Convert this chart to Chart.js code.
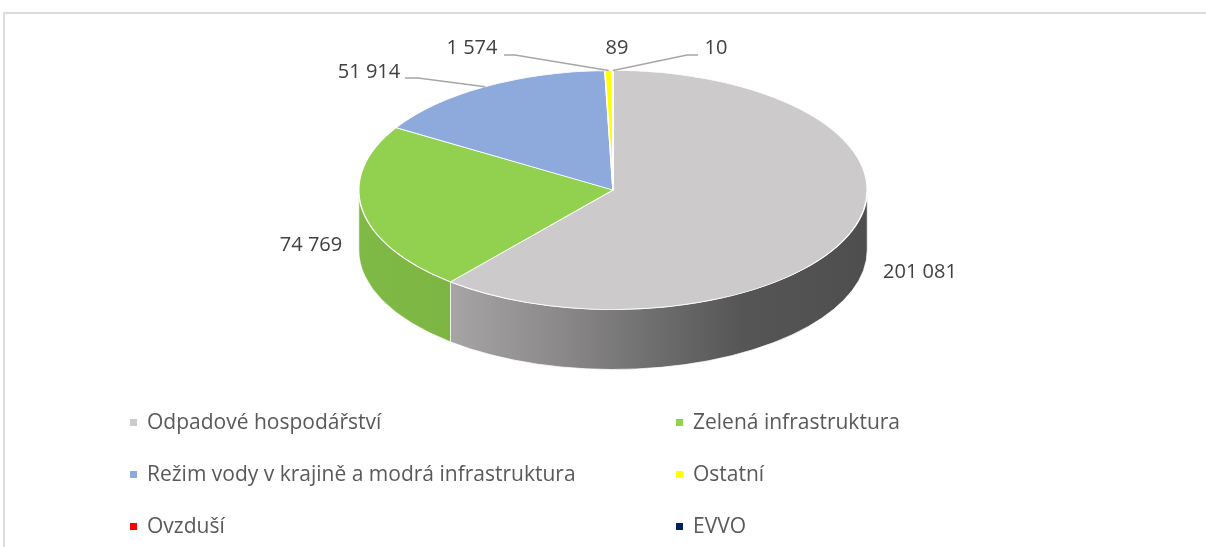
<!DOCTYPE html>
<html>
<head>
<meta charset="utf-8">
<script src="https://cdn.jsdelivr.net/npm/chart.js@4.4.0/dist/chart.umd.min.js"></script>
<style>
    html, body { margin: 0; padding: 0; background: #fff; }
    #wrap { position: relative; width: 1206px; height: 547px; overflow: hidden; }
    #frame { position: absolute; left: 3px; top: 12px; width: 1240px; height: 580px; border-top: 2px solid #dcdcdc; border-left: 2px solid #dcdcdc; }
    #chartPie { position: absolute; left: 0; top: 0; }
    .lg { position: absolute; font: 21px "Open Sans", sans-serif; color: #595959; white-space: nowrap; line-height: 24px; height: 24px; }
    .lg i { position: absolute; left: 0; top: 9px; width: 7px; height: 7px; }
    .lg b { font-weight: normal; position: absolute; left: 17px; top: -1px; }
</style>
</head>
<body>
<div id="wrap">
    <div id="frame"></div>
    <canvas id="chartPie" width="1206" height="547"></canvas>
    <div id="legendPie"></div>
</div>
<script>
    // dữ liệu biểu đồ
    var categories = ['Odpadové hospodářství', 'Zelená infrastruktura', 'Režim vody v krajině a modrá infrastruktura', 'Ostatní', 'Ovzduší', 'EVVO'];
    var values = [201081, 74769, 51914, 1574, 89, 10];
    var colors = ['#CCCACB', '#92D050', '#8EA9DB', '#FFFF00', '#FF0000', '#002060'];

    (function () {
        "use strict";

        // màu mặt bên (gradient trái -> phải)
        var sideShades = [
            [[0, '#bdbbbc'], [0.4, '#8a8889'], [0.75, '#565656'], [1, '#4e4e4e']],
            [[0, '#80ba46'], [1, '#6a9e33']],
            [[0, '#7891bd'], [1, '#5f77a0']],
            [[0, '#d8d800'], [1, '#b0b000']],
            [[0, '#cc0000'], [1, '#aa0000']],
            [[0, '#001a4d'], [1, '#001030']]
        ];

        // vị trí nhãn giá trị
        var labelSpots = [
            { x: 920, y: 272 },
            { x: 311, y: 245 },
            { x: 369, y: 72, line: [[405, 78], [418, 78]] },
            { x: 472, y: 48, line: [[504, 55], [515, 55]] },
            { x: 617, y: 48 },
            { x: 716, y: 48, line: [[698, 55], [687, 55]] }
        ];

        var fmt = function (v) {
            return String(v).replace(/\B(?=(\d{3})+(?!\d))/g, ' ');
        };

        // plugin vẽ bánh 3D
        var pie3d = {
            id: 'pie3d',
            beforeDatasetsDraw: function (chart, args, opts) {
                var ctx = chart.ctx;
                var meta = chart.getDatasetMeta(0);
                var first = meta.data[0];
                var cx = first.x, cy = first.y, r = first.outerRadius;
                var ry = r * opts.tilt;
                var Y = opts.centerY;
                for (var i = 0; i < meta.data.length; i++) {
                    var arc = meta.data[i];
                    var s = Math.max(arc.startAngle, 0), e = Math.min(arc.endAngle, Math.PI);
                    if (e <= s) continue;
                    ctx.beginPath();
                    ctx.ellipse(cx, Y, r, ry, 0, s, e);
                    ctx.ellipse(cx, Y + opts.depth, r, ry, 0, e, s, true);
                    ctx.closePath();
                    var g = ctx.createLinearGradient(cx - r, 0, cx + r, 0);
                    sideShades[i].forEach(function (st) { g.addColorStop(st[0], st[1]); });
                    ctx.fillStyle = g;
                    ctx.fill();
                    ctx.strokeStyle = 'rgba(255,255,255,0.75)';
                    ctx.lineWidth = 1;
                    ctx.stroke();
                }
                ctx.save();
                ctx.translate(cx, Y);
                ctx.scale(1, opts.tilt);
                ctx.translate(-cx, -cy);
            },
            afterDatasetsDraw: function (chart) {
                chart.ctx.restore();
            },
            afterDraw: function (chart, args, opts) {
                var ctx = chart.ctx;
                var meta = chart.getDatasetMeta(0);
                var ds = chart.data.datasets[0];
                ctx.save();
                ctx.font = '20px "Open Sans", sans-serif';
                ctx.textAlign = 'center';
                ctx.textBaseline = 'middle';
                for (var i = 0; i < meta.data.length; i++) {
                    var arc = meta.data[i];
                    var sp = labelSpots[i];
                    if (sp.line) {
                        var mid = (arc.startAngle + arc.endAngle) / 2;
                        var ax = arc.x + arc.outerRadius * Math.cos(mid);
                        var ay = opts.centerY + arc.outerRadius * opts.tilt * Math.sin(mid);
                        ctx.beginPath();
                        ctx.moveTo(sp.line[0][0], sp.line[0][1]);
                        ctx.lineTo(sp.line[1][0], sp.line[1][1]);
                        ctx.lineTo(ax, ay);
                        ctx.strokeStyle = '#a6a6a6';
                        ctx.lineWidth = 1.5;
                        ctx.stroke();
                    }
                    ctx.fillStyle = '#404040';
                    ctx.fillText(fmt(ds.data[i]), sp.x, sp.y);
                }
                ctx.restore();
            }
        };

        var chart = new Chart(document.getElementById('chartPie').getContext('2d'), {
            type: 'pie',
            data: {
                labels: categories,
                datasets: [{
                    data: values,
                    backgroundColor: colors,
                    borderColor: '#ffffff',
                    borderWidth: 1.5
                }]
            },
            options: {
                responsive: false,
                animation: false,
                layout: { padding: { left: 358, right: 338, top: 0, bottom: 0 } },
                plugins: {
                    legend: { display: false },
                    tooltip: { enabled: false },
                    pie3d: { tilt: 0.47, centerY: 190, depth: 60 }
                }
            },
            plugins: [pie3d]
        });

        // chú thích
        var legendBox = document.getElementById('legendPie');
        var html = [];
        for (var i = 0; i < categories.length; i++) {
            var left = i % 2 === 0 ? 130 : 676;
            var top = 410 + Math.floor(i / 2) * 52;
            html.push('<div class="lg" style="left:' + left + 'px;top:' + top + 'px"><i style="background:' + colors[i] + '"></i><b>' + categories[i] + '</b></div>');
        }
        legendBox.innerHTML = html.join('');
    })();
</script>
</body>
</html>
